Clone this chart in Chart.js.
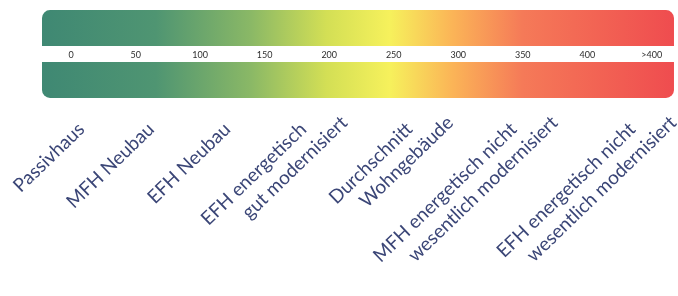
<!DOCTYPE html>
<html lang="de">
<head>
    <meta charset="UTF-8">
    <title>Energiekennwerte</title>
    <style>
        body { margin: 0; background: #fff; }
        .chart-box { width: 678px; height: 296px; }
    </style>
</head>
<body>
    <div class="chart-box">
        <canvas id="scaleChart"></canvas>
    </div>

    <script src="https://cdn.jsdelivr.net/npm/chart.js"></script>
    <script>
        // Skala in kWh/(m²a)
        const scaleTicks = [0, 50, 100, 150, 200, 250, 300, 350, 400, 450];
        const tickLabels = ['0', '50', '100', '150', '200', '250', '300', '350', '400', '>400'];
        const scaleMin = -22.6;
        const scaleMax = 467.2;

        // zwei Hälften des Farbbalkens
        const rows = ['oben', 'unten'];
        const barRange = [[scaleMin, scaleMax], [scaleMin, scaleMax]];

        // Gebäudetypen und ihre Lage auf der Skala
        const buildingTypes = [
            ['Passivhaus'],
            ['MFH Neubau'],
            ['EFH Neubau'],
            ['EFH energetisch', 'gut modernisiert'],
            ['Durchschnitt', 'Wohngebäude'],
            ['MFH energetisch nicht', 'wesentlich modernisiert'],
            ['EFH energetisch nicht', 'wesentlich modernisiert']
        ];
        const buildingPos = [27, 81, 140, 199, 281, 362, 454];

        const textColor = '#3b4677';
        // erste Zeile etwas eingerückt, damit die zweite Zeile versetzt steht
        const firstLineIndent = '       ';

        function scaleGradient(context) {
            const chart = context.chart;
            const area = chart.chartArea;
            if (!area) return '#3f8a73';
            const g = chart.ctx.createLinearGradient(area.left, 0, area.right, 0);
            g.addColorStop(0.00, '#3f8873');
            g.addColorStop(0.18, '#4f9572');
            g.addColorStop(0.33, '#8ab866');
            g.addColorStop(0.45, '#d3df55');
            g.addColorStop(0.55, '#f6f15c');
            g.addColorStop(0.65, '#fbb457');
            g.addColorStop(0.76, '#f57a58');
            g.addColorStop(1.00, '#ef4c4f');
            return g;
        }

        const ctx = document.getElementById('scaleChart').getContext('2d');
        new Chart(ctx, {
            type: 'bar',
            data: {
                labels: rows,
                datasets: [{
                    data: barRange,
                    backgroundColor: scaleGradient,
                    borderSkipped: false,
                    borderWidth: 0,
                    borderRadius: (c) => c.dataIndex === 0
                        ? { topLeft: 8, topRight: 8, bottomLeft: 0, bottomRight: 0 }
                        : { topLeft: 0, topRight: 0, bottomLeft: 8, bottomRight: 8 },
                    categoryPercentage: 1,
                    barPercentage: 0.69,
                    xAxisID: 'x'
                }]
            },
            options: {
                indexAxis: 'y',
                responsive: true,
                maintainAspectRatio: false,
                animation: false,
                layout: { padding: { left: 42, right: 2, top: 2, bottom: 0 } },
                plugins: {
                    legend: { display: false },
                    tooltip: { enabled: false }
                },
                scales: {
                    y: {
                        type: 'category',
                        display: false
                    },
                    x: {
                        type: 'linear',
                        min: scaleMin,
                        max: scaleMax,
                        position: { y: 0.5 },
                        grid: { display: false, drawTicks: false },
                        border: { display: false },
                        afterBuildTicks: (s) => { s.ticks = scaleTicks.map(v => ({ value: v })); },
                        ticks: {
                            autoSkip: false,
                            maxRotation: 0,
                            padding: -4,
                            color: '#2e2e2e',
                            font: { family: 'Lato', size: 9 },
                            callback: (v, i) => tickLabels[i]
                        }
                    },
                    xl: {
                        type: 'linear',
                        position: 'bottom',
                        min: scaleMin,
                        max: scaleMax,
                        grid: { display: false, drawTicks: false },
                        border: { display: false },
                        afterBuildTicks: (s) => { s.ticks = buildingPos.map(v => ({ value: v })); },
                        afterFit: (s) => { s.height = 190; },
                        ticks: {
                            autoSkip: false,
                            minRotation: 44,
                            maxRotation: 44,
                            padding: -12,
                            color: textColor,
                            font: { family: 'Lato', size: 19, lineHeight: 1.25 },
                            callback: (v, i) => {
                                const lines = buildingTypes[i].slice();
                                lines[0] = lines[0] + firstLineIndent;
                                return lines;
                            }
                        }
                    }
                }
            }
        });
    </script>
</body>
</html>
